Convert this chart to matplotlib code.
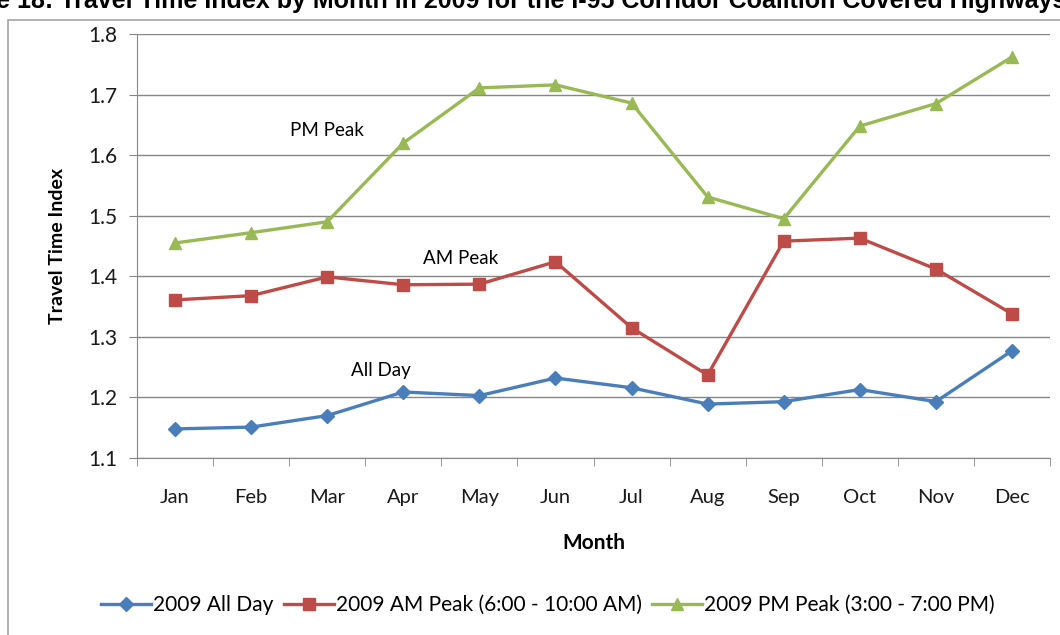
import numpy as np
import matplotlib
matplotlib.use("Agg")
import matplotlib.pyplot as plt
from matplotlib.patches import Rectangle

months = ["Jan", "Feb", "Mar", "Apr", "May", "Jun", "Jul", "Aug", "Sep", "Oct", "Nov", "Dec"]
all_day = [1.148, 1.151, 1.170, 1.209, 1.203, 1.232, 1.216, 1.189, 1.193, 1.213, 1.193, 1.277]
am_peak = [1.361, 1.368, 1.399, 1.386, 1.387, 1.424, 1.315, 1.237, 1.458, 1.463, 1.412, 1.338]
pm_peak = [1.455, 1.472, 1.490, 1.620, 1.711, 1.716, 1.686, 1.531, 1.495, 1.648, 1.685, 1.762]
yticks = [1.1, 1.2, 1.3, 1.4, 1.5, 1.6, 1.7, 1.8]

plt.rcParams['font.family'] = ['Lato', 'DejaVu Sans']

fig = plt.figure(figsize=(10.6, 6.35), dpi=100)

# outer chart frame (cropped Excel chart)
fig.patches.append(Rectangle((8 / 1060, -0.05), 1.2, 1 - 20 / 635 + 0.05,
                             transform=fig.transFigure, fill=False,
                             edgecolor='#a6a6a6', linewidth=1.2))

# title, cut off at the top of the crop
fig.text(-0.004, 1 - 8 / 635,
         "e 18: Travel Time Index by Month in 2009 for the I-95 Corridor Coalition Covered Highways",
         family='Liberation Sans', fontweight='bold', fontsize=18, va='baseline', ha='left')

ax = fig.add_axes([137 / 1060, 1 - 458 / 635, 913 / 1060, 424 / 635])
x = np.arange(len(months))

ax.plot(x, all_day, color='#4a7ebb', lw=2.4, marker='D', ms=7.5, label="2009 All Day")
ax.plot(x, am_peak, color='#be4b48', lw=2.4, marker='s', ms=8.5, label="2009 AM Peak (6:00 - 10:00 AM)")
ax.plot(x, pm_peak, color='#98b954', lw=2.4, marker='^', ms=9, label="2009 PM Peak (3:00 - 7:00 PM)")

ax.set_xlim(-0.5, len(months) - 0.5)
ax.set_ylim(1.1, 1.8)
ax.set_yticks(yticks)
ax.set_yticklabels([f"{v:.1f}" for v in yticks], fontsize=15)
ax.set_xticks(x)
ax.set_xticklabels(months, fontsize=14.5)
ax.set_xticks(np.arange(-0.5, len(months)), minor=True)
ax.tick_params(axis='x', which='major', length=0, pad=22)
ax.tick_params(axis='x', which='minor', length=6, color='#868686')
ax.tick_params(axis='y', length=6, color='#868686', pad=8, labelcolor='#1a1a1a')
ax.tick_params(axis='x', labelcolor='#1a1a1a')

ax.grid(axis='y', color='#868686', linewidth=1)
ax.set_axisbelow(True)
for side in ['top', 'right']:
    ax.spines[side].set_visible(False)
for side in ['left', 'bottom']:
    ax.spines[side].set_color('#868686')

ax.set_ylabel("Travel Time Index", fontsize=14, fontweight='bold', labelpad=16)
ax.set_xlabel("Month", fontsize=15, fontweight='bold', labelpad=20)

ax.text(2.0, 1.64, "PM Peak", fontsize=13.5, ha='center', va='center')
ax.text(3.75, 1.43, "AM Peak", fontsize=13.5, ha='center', va='center')
ax.text(2.7, 1.245, "All Day", fontsize=13.5, ha='center', va='center')

fig.legend(loc='center', bbox_to_anchor=(548 / 1060, 1 - 605 / 635), ncol=3,
           frameon=False, fontsize=15, handlelength=2.4, handletextpad=0.1,
           columnspacing=0.5)

plt.savefig("out.png", dpi=100)
